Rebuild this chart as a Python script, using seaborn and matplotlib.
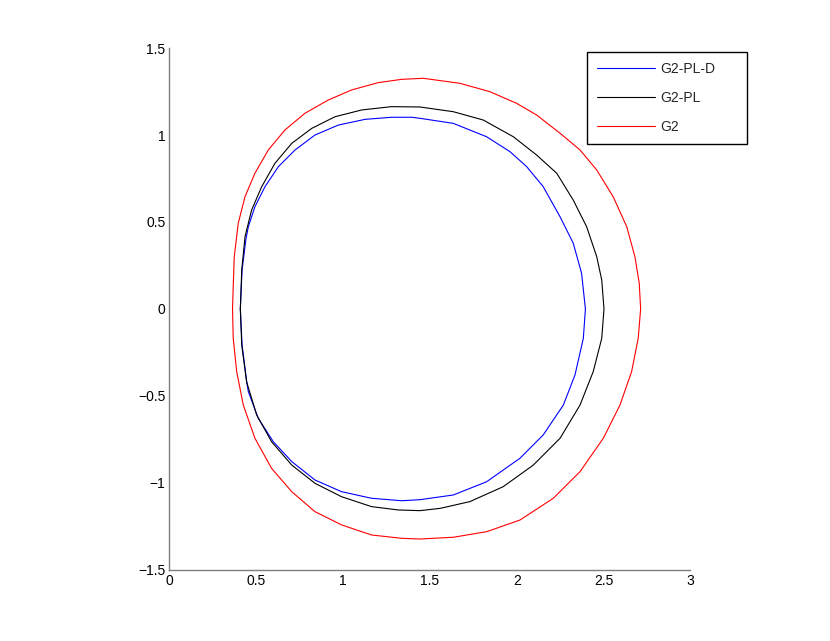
import pandas as pd
import numpy as np
import matplotlib
matplotlib.use("Agg")
import matplotlib.pyplot as plt
import seaborn as sns

# curves (closed, starting at the left-most point, clockwise)
g2pld_x = [0.408, 0.418, 0.440, 0.454, 0.492, 0.550, 0.627, 0.723, 0.838, 0.972,
           1.126, 1.279, 1.395, 1.442, 1.634, 1.826, 1.961, 2.057, 2.152, 2.249,
           2.325, 2.373, 2.395, 2.383, 2.335, 2.268, 2.152, 2.018, 1.826, 1.634,
           1.442, 1.337, 1.164, 0.991, 0.838, 0.704, 0.598, 0.511, 0.454, 0.445,
           0.418, 0.408]
g2pld_y = [0.000, 0.224, 0.400, 0.473, 0.588, 0.703, 0.818, 0.914, 1.000, 1.057,
           1.090, 1.102, 1.102, 1.096, 1.067, 0.990, 0.904, 0.818, 0.703, 0.530,
           0.378, 0.205, 0.000, -0.169, -0.379, -0.552, -0.724, -0.858, -0.993, -1.069,
           -1.096, -1.102, -1.088, -1.050, -0.983, -0.877, -0.763, -0.628, -0.475, -0.420,
           -0.207, 0.000]

g2pl_x = [0.408, 0.416, 0.435, 0.473, 0.531, 0.607, 0.704, 0.819, 0.953, 1.107,
          1.279, 1.442, 1.634, 1.807, 1.980, 2.114, 2.230, 2.325, 2.402, 2.460,
          2.489, 2.502, 2.489, 2.440, 2.364, 2.249, 2.095, 1.922, 1.730, 1.558,
          1.442, 1.317, 1.164, 0.991, 0.838, 0.704, 0.588, 0.502, 0.444, 0.416,
          0.408]
g2pl_y = [0.000, 0.224, 0.416, 0.569, 0.703, 0.837, 0.952, 1.038, 1.105, 1.144,
          1.163, 1.161, 1.134, 1.086, 0.990, 0.885, 0.780, 0.626, 0.473, 0.301,
          0.167, 0.000, -0.169, -0.360, -0.552, -0.743, -0.897, -1.021, -1.107, -1.146,
          -1.159, -1.155, -1.136, -1.079, -1.002, -0.897, -0.763, -0.609, -0.418, -0.207,
          0.000]

g2_x = [0.363, 0.367, 0.373, 0.396, 0.435, 0.492, 0.569, 0.665, 0.780, 0.914,
        1.049, 1.202, 1.337, 1.461, 1.673, 1.845, 1.999, 2.114, 2.249, 2.364,
        2.460, 2.555, 2.633, 2.680, 2.705, 2.713, 2.699, 2.661, 2.594, 2.498,
        2.364, 2.210, 2.018, 1.826, 1.634, 1.442, 1.337, 1.164, 0.991, 0.838,
        0.704, 0.588, 0.492, 0.425, 0.387, 0.367, 0.363]
g2_y = [0.000, 0.128, 0.301, 0.493, 0.646, 0.780, 0.914, 1.029, 1.125, 1.201,
        1.259, 1.301, 1.320, 1.326, 1.297, 1.249, 1.182, 1.115, 1.010, 0.914,
        0.799, 0.645, 0.473, 0.301, 0.148, 0.000, -0.169, -0.360, -0.552, -0.743,
        -0.935, -1.088, -1.213, -1.280, -1.312, -1.322, -1.318, -1.299, -1.241, -1.165,
        -1.050, -0.916, -0.743, -0.552, -0.360, -0.169, 0.000]

labels = ["G2-PL-D", "G2-PL", "G2"]
colors = {"G2-PL-D": "#0000ff", "G2-PL": "#000000", "G2": "#ff0000"}

frames = []
for name, xs, ys in zip(labels, [g2pld_x, g2pl_x, g2_x], [g2pld_y, g2pl_y, g2_y]):
    d = pd.DataFrame({"x": xs, "y": ys})
    d["curve"] = name
    frames.append(d)
df = pd.concat(frames, ignore_index=True)

sns.set_style("white")
plt.rcParams["font.family"] = ["Liberation Sans", "DejaVu Sans"]
plt.rcParams["axes.unicode_minus"] = True

fig = plt.figure(figsize=(8.3, 6.41), dpi=100)
ax = fig.add_axes([0.2042, 0.1108, 0.6277, 0.8143])

sns.lineplot(data=df, x="x", y="y", hue="curve", hue_order=labels, palette=colors,
             sort=False, estimator=None, units="curve", linewidth=0.8, ax=ax)

ax.set_xlim(0, 3)
ax.set_ylim(-1.5, 1.5)
ax.set_xticks([0, 0.5, 1, 1.5, 2, 2.5, 3])
ax.set_xticklabels(["0", "0.5", "1", "1.5", "2", "2.5", "3"])
ax.set_yticks([-1.5, -1, -0.5, 0, 0.5, 1, 1.5])
ax.set_yticklabels(["\u22121.5", "\u22121", "\u22120.5", "0", "0.5", "1", "1.5"])
ax.set_xlabel("")
ax.set_ylabel("")

for s in ["top", "right"]:
    ax.spines[s].set_visible(False)
for s in ["left", "bottom"]:
    ax.spines[s].set_color("#7f7f7f")
    ax.spines[s].set_linewidth(1.0)
ax.tick_params(direction="in", length=5, width=1.0, color="#7f7f7f",
               labelsize=10, labelcolor="black", pad=3)

# legend box spans x 587..747 px, top at 52 px
handles, _ = ax.get_legend_handles_labels()
leg = ax.legend(handles, labels, loc="upper left",
                bbox_to_anchor=(587 / 830, 1 - 142 / 641, 160 / 830, 90 / 641),
                bbox_transform=fig.transFigure, mode="expand", frameon=True, fancybox=False,
                edgecolor="black", framealpha=1, fontsize=10, handlelength=4.2,
                handletextpad=0.4, labelspacing=1.1, borderpad=0.7, borderaxespad=0)
leg.get_frame().set_linewidth(1.0)
for line in leg.get_lines():
    line.set_linewidth(0.8)

fig.savefig("out.png", dpi=100)
